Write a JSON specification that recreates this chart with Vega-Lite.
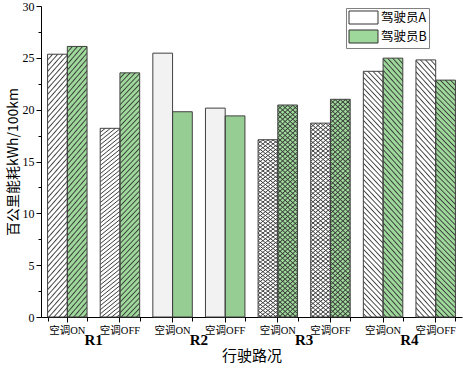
{
  "$schema": "https://vega.github.io/schema/vega-lite/v6.json",
  "width": 421,
  "height": 311,
  "padding": {"left": 6, "top": 0, "right": 2, "bottom": 0},
  "background": "white",
  "datasets": {
    "bars": [
      {"key": "R1 空调ON", "group": "R1", "cond": "空调ON", "driver": "驾驶员A", "value": 25.35},
      {"key": "R1 空调ON", "group": "R1", "cond": "空调ON", "driver": "驾驶员B", "value": 26.1},
      {"key": "R1 空调OFF", "group": "R1", "cond": "空调OFF", "driver": "驾驶员A", "value": 18.2},
      {"key": "R1 空调OFF", "group": "R1", "cond": "空调OFF", "driver": "驾驶员B", "value": 23.55},
      {"key": "R2 空调ON", "group": "R2", "cond": "空调ON", "driver": "驾驶员A", "value": 25.45},
      {"key": "R2 空调ON", "group": "R2", "cond": "空调ON", "driver": "驾驶员B", "value": 19.8},
      {"key": "R2 空调OFF", "group": "R2", "cond": "空调OFF", "driver": "驾驶员A", "value": 20.15},
      {"key": "R2 空调OFF", "group": "R2", "cond": "空调OFF", "driver": "驾驶员B", "value": 19.4},
      {"key": "R3 空调ON", "group": "R3", "cond": "空调ON", "driver": "驾驶员A", "value": 17.1},
      {"key": "R3 空调ON", "group": "R3", "cond": "空调ON", "driver": "驾驶员B", "value": 20.45},
      {"key": "R3 空调OFF", "group": "R3", "cond": "空调OFF", "driver": "驾驶员A", "value": 18.7},
      {"key": "R3 空调OFF", "group": "R3", "cond": "空调OFF", "driver": "驾驶员B", "value": 21.0},
      {"key": "R4 空调ON", "group": "R4", "cond": "空调ON", "driver": "驾驶员A", "value": 23.7},
      {"key": "R4 空调ON", "group": "R4", "cond": "空调ON", "driver": "驾驶员B", "value": 24.97},
      {"key": "R4 空调OFF", "group": "R4", "cond": "空调OFF", "driver": "驾驶员A", "value": 24.8},
      {"key": "R4 空调OFF", "group": "R4", "cond": "空调OFF", "driver": "驾驶员B", "value": 22.85}
    ],
    "groups": [{"group": "R1"}, {"group": "R2"}, {"group": "R3"}, {"group": "R4"}],
    "minor": [{"v": 2.5}, {"v": 7.5}, {"v": 12.5}, {"v": 17.5}, {"v": 22.5}, {"v": 27.5}]
  },
  "layer": [
    {
      "data": {"name": "bars"},
      "encoding": {
        "x": {
          "field": "key", "type": "nominal",
          "sort": ["R1 空调ON", "R1 空调OFF", "R2 空调ON", "R2 空调OFF", "R3 空调ON", "R3 空调OFF", "R4 空调ON", "R4 空调OFF"],
          "scale": {"paddingInner": 0.25, "paddingOuter": 0.125},
          "axis": {"title": null, "labelAngle": 0, "labelExpr": "slice(datum.label, 3)",
                   "labelFont": "Liberation Serif, Noto Sans CJK SC", "labelFontSize": 10.5, "labelColor": "#000",
                   "domainColor": "#000", "tickColor": "#000", "tickSize": 5, "labelPadding": 3}
        },
        "xOffset": {"field": "driver", "type": "nominal", "sort": ["驾驶员A", "驾驶员B"]},
        "y": {
          "field": "value", "type": "quantitative",
          "scale": {"domain": [0, 30]},
          "axis": {"title": "百公里能耗kWh/100km", "titleFont": "Noto Sans CJK SC", "titleFontSize": 14, "titleFontWeight": "normal", "titleColor": "#000",
                   "values": [0, 5, 10, 15, 20, 25, 30], "grid": false,
                   "labelFont": "Liberation Serif", "labelFontSize": 12, "labelColor": "#000",
                   "domainColor": "#000", "tickColor": "#000", "tickSize": 5, "titlePadding": 2}
        }
      },
      "layer": [
        {
          "mark": {"type": "bar", "strokeWidth": 0},
          "encoding": {
            "fill": {
              "field": "driver", "type": "nominal",
              "scale": {"domain": ["驾驶员A", "驾驶员B"], "range": ["#ffffff", "#9fd89b"]},
              "legend": {"title": null, "orient": "none", "legendX": 305, "legendY": 2,
                         "strokeColor": "#808080", "fillColor": "white", "padding": 2,
                         "labelFont": "Noto Sans CJK SC", "labelFontSize": 12.5, "labelColor": "#000", "labelLimit": 200,
                         "symbolType": "M-2.07,-0.93H2.07V0.93H-2.07Z", "symbolSize": 196,
                         "symbolStrokeColor": "#333", "symbolStrokeWidth": 1, "symbolOffset": 8, "labelOffset": 10, "rowPadding": 0}
            }
          }
        },
        {
          "transform": [{"filter": "datum.group === 'R2'"}],
          "mark": {"type": "bar", "strokeWidth": 0, "fill": "#000", "fillOpacity": 0.05}
        },
        {
          "transform": [{"filter": "datum.group === 'R1' || datum.group === 'R3'"}],
          "mark": {"type": "bar", "strokeWidth": 0, "fill": {"gradient": "linear", "x1": 0, "y1": 0, "x2": 0.092, "y2": 1.085, "stops": [
            {"offset": 0, "color": "#333e"}, {"offset": 0.005, "color": "#3330"}, {"offset": 0.015, "color": "#3330"},
            {"offset": 0.02, "color": "#333e"}, {"offset": 0.025, "color": "#3330"}, {"offset": 0.035, "color": "#3330"},
            {"offset": 0.04, "color": "#333e"}, {"offset": 0.045, "color": "#3330"}, {"offset": 0.055, "color": "#3330"},
            {"offset": 0.06, "color": "#333e"}, {"offset": 0.065, "color": "#3330"}, {"offset": 0.075, "color": "#3330"},
            {"offset": 0.08, "color": "#333e"}, {"offset": 0.085, "color": "#3330"}, {"offset": 0.095, "color": "#3330"},
            {"offset": 0.1, "color": "#333e"}, {"offset": 0.105, "color": "#3330"}, {"offset": 0.115, "color": "#3330"},
            {"offset": 0.12, "color": "#333e"}, {"offset": 0.125, "color": "#3330"}, {"offset": 0.135, "color": "#3330"},
            {"offset": 0.14, "color": "#333e"}, {"offset": 0.145, "color": "#3330"}, {"offset": 0.155, "color": "#3330"},
            {"offset": 0.16, "color": "#333e"}, {"offset": 0.165, "color": "#3330"}, {"offset": 0.175, "color": "#3330"},
            {"offset": 0.18, "color": "#333e"}, {"offset": 0.185, "color": "#3330"}, {"offset": 0.195, "color": "#3330"},
            {"offset": 0.2, "color": "#333e"}, {"offset": 0.205, "color": "#3330"}, {"offset": 0.215, "color": "#3330"},
            {"offset": 0.22, "color": "#333e"}, {"offset": 0.225, "color": "#3330"}, {"offset": 0.235, "color": "#3330"},
            {"offset": 0.24, "color": "#333e"}, {"offset": 0.245, "color": "#3330"}, {"offset": 0.255, "color": "#3330"},
            {"offset": 0.26, "color": "#333e"}, {"offset": 0.265, "color": "#3330"}, {"offset": 0.275, "color": "#3330"},
            {"offset": 0.28, "color": "#333e"}, {"offset": 0.285, "color": "#3330"}, {"offset": 0.295, "color": "#3330"},
            {"offset": 0.3, "color": "#333e"}, {"offset": 0.305, "color": "#3330"}, {"offset": 0.315, "color": "#3330"},
            {"offset": 0.32, "color": "#333e"}, {"offset": 0.325, "color": "#3330"}, {"offset": 0.335, "color": "#3330"},
            {"offset": 0.34, "color": "#333e"}, {"offset": 0.345, "color": "#3330"}, {"offset": 0.355, "color": "#3330"},
            {"offset": 0.36, "color": "#333e"}, {"offset": 0.365, "color": "#3330"}, {"offset": 0.375, "color": "#3330"},
            {"offset": 0.38, "color": "#333e"}, {"offset": 0.385, "color": "#3330"}, {"offset": 0.395, "color": "#3330"},
            {"offset": 0.4, "color": "#333e"}, {"offset": 0.405, "color": "#3330"}, {"offset": 0.415, "color": "#3330"},
            {"offset": 0.42, "color": "#333e"}, {"offset": 0.425, "color": "#3330"}, {"offset": 0.435, "color": "#3330"},
            {"offset": 0.44, "color": "#333e"}, {"offset": 0.445, "color": "#3330"}, {"offset": 0.455, "color": "#3330"},
            {"offset": 0.46, "color": "#333e"}, {"offset": 0.465, "color": "#3330"}, {"offset": 0.475, "color": "#3330"},
            {"offset": 0.48, "color": "#333e"}, {"offset": 0.485, "color": "#3330"}, {"offset": 0.495, "color": "#3330"},
            {"offset": 0.5, "color": "#333e"}, {"offset": 0.505, "color": "#3330"}, {"offset": 0.515, "color": "#3330"},
            {"offset": 0.52, "color": "#333e"}, {"offset": 0.525, "color": "#3330"}, {"offset": 0.535, "color": "#3330"},
            {"offset": 0.54, "color": "#333e"}, {"offset": 0.545, "color": "#3330"}, {"offset": 0.555, "color": "#3330"},
            {"offset": 0.56, "color": "#333e"}, {"offset": 0.565, "color": "#3330"}, {"offset": 0.575, "color": "#3330"},
            {"offset": 0.58, "color": "#333e"}, {"offset": 0.585, "color": "#3330"}, {"offset": 0.595, "color": "#3330"},
            {"offset": 0.6, "color": "#333e"}, {"offset": 0.605, "color": "#3330"}, {"offset": 0.615, "color": "#3330"},
            {"offset": 0.62, "color": "#333e"}, {"offset": 0.625, "color": "#3330"}, {"offset": 0.635, "color": "#3330"},
            {"offset": 0.64, "color": "#333e"}, {"offset": 0.645, "color": "#3330"}, {"offset": 0.655, "color": "#3330"},
            {"offset": 0.66, "color": "#333e"}, {"offset": 0.665, "color": "#3330"}, {"offset": 0.675, "color": "#3330"},
            {"offset": 0.68, "color": "#333e"}, {"offset": 0.685, "color": "#3330"}, {"offset": 0.695, "color": "#3330"},
            {"offset": 0.7, "color": "#333e"}, {"offset": 0.705, "color": "#3330"}, {"offset": 0.715, "color": "#3330"},
            {"offset": 0.72, "color": "#333e"}, {"offset": 0.725, "color": "#3330"}, {"offset": 0.735, "color": "#3330"},
            {"offset": 0.74, "color": "#333e"}, {"offset": 0.745, "color": "#3330"}, {"offset": 0.755, "color": "#3330"},
            {"offset": 0.76, "color": "#333e"}, {"offset": 0.765, "color": "#3330"}, {"offset": 0.775, "color": "#3330"},
            {"offset": 0.78, "color": "#333e"}, {"offset": 0.785, "color": "#3330"}, {"offset": 0.795, "color": "#3330"},
            {"offset": 0.8, "color": "#333e"}, {"offset": 0.805, "color": "#3330"}, {"offset": 0.815, "color": "#3330"},
            {"offset": 0.82, "color": "#333e"}, {"offset": 0.825, "color": "#3330"}, {"offset": 0.835, "color": "#3330"},
            {"offset": 0.84, "color": "#333e"}, {"offset": 0.845, "color": "#3330"}, {"offset": 0.855, "color": "#3330"},
            {"offset": 0.86, "color": "#333e"}, {"offset": 0.865, "color": "#3330"}, {"offset": 0.875, "color": "#3330"},
            {"offset": 0.88, "color": "#333e"}, {"offset": 0.885, "color": "#3330"}, {"offset": 0.895, "color": "#3330"},
            {"offset": 0.9, "color": "#333e"}, {"offset": 0.905, "color": "#3330"}, {"offset": 0.915, "color": "#3330"},
            {"offset": 0.92, "color": "#333e"}, {"offset": 0.925, "color": "#3330"}, {"offset": 0.935, "color": "#3330"},
            {"offset": 0.94, "color": "#333e"}, {"offset": 0.945, "color": "#3330"}, {"offset": 0.955, "color": "#3330"},
            {"offset": 0.96, "color": "#333e"}, {"offset": 0.965, "color": "#3330"}, {"offset": 0.975, "color": "#3330"},
            {"offset": 0.98, "color": "#333e"}, {"offset": 0.985, "color": "#3330"}, {"offset": 0.995, "color": "#3330"},
            {"offset": 1, "color": "#333e"}
          ]}}
        },
        {
          "transform": [{"filter": "datum.group === 'R3' || datum.group === 'R4'"}],
          "mark": {"type": "bar", "strokeWidth": 0, "fill": {"gradient": "linear", "x1": 1, "y1": 0, "x2": 0.908, "y2": 1.085, "stops": [
            {"offset": 0, "color": "#333e"}, {"offset": 0.005, "color": "#3330"}, {"offset": 0.015, "color": "#3330"},
            {"offset": 0.02, "color": "#333e"}, {"offset": 0.025, "color": "#3330"}, {"offset": 0.035, "color": "#3330"},
            {"offset": 0.04, "color": "#333e"}, {"offset": 0.045, "color": "#3330"}, {"offset": 0.055, "color": "#3330"},
            {"offset": 0.06, "color": "#333e"}, {"offset": 0.065, "color": "#3330"}, {"offset": 0.075, "color": "#3330"},
            {"offset": 0.08, "color": "#333e"}, {"offset": 0.085, "color": "#3330"}, {"offset": 0.095, "color": "#3330"},
            {"offset": 0.1, "color": "#333e"}, {"offset": 0.105, "color": "#3330"}, {"offset": 0.115, "color": "#3330"},
            {"offset": 0.12, "color": "#333e"}, {"offset": 0.125, "color": "#3330"}, {"offset": 0.135, "color": "#3330"},
            {"offset": 0.14, "color": "#333e"}, {"offset": 0.145, "color": "#3330"}, {"offset": 0.155, "color": "#3330"},
            {"offset": 0.16, "color": "#333e"}, {"offset": 0.165, "color": "#3330"}, {"offset": 0.175, "color": "#3330"},
            {"offset": 0.18, "color": "#333e"}, {"offset": 0.185, "color": "#3330"}, {"offset": 0.195, "color": "#3330"},
            {"offset": 0.2, "color": "#333e"}, {"offset": 0.205, "color": "#3330"}, {"offset": 0.215, "color": "#3330"},
            {"offset": 0.22, "color": "#333e"}, {"offset": 0.225, "color": "#3330"}, {"offset": 0.235, "color": "#3330"},
            {"offset": 0.24, "color": "#333e"}, {"offset": 0.245, "color": "#3330"}, {"offset": 0.255, "color": "#3330"},
            {"offset": 0.26, "color": "#333e"}, {"offset": 0.265, "color": "#3330"}, {"offset": 0.275, "color": "#3330"},
            {"offset": 0.28, "color": "#333e"}, {"offset": 0.285, "color": "#3330"}, {"offset": 0.295, "color": "#3330"},
            {"offset": 0.3, "color": "#333e"}, {"offset": 0.305, "color": "#3330"}, {"offset": 0.315, "color": "#3330"},
            {"offset": 0.32, "color": "#333e"}, {"offset": 0.325, "color": "#3330"}, {"offset": 0.335, "color": "#3330"},
            {"offset": 0.34, "color": "#333e"}, {"offset": 0.345, "color": "#3330"}, {"offset": 0.355, "color": "#3330"},
            {"offset": 0.36, "color": "#333e"}, {"offset": 0.365, "color": "#3330"}, {"offset": 0.375, "color": "#3330"},
            {"offset": 0.38, "color": "#333e"}, {"offset": 0.385, "color": "#3330"}, {"offset": 0.395, "color": "#3330"},
            {"offset": 0.4, "color": "#333e"}, {"offset": 0.405, "color": "#3330"}, {"offset": 0.415, "color": "#3330"},
            {"offset": 0.42, "color": "#333e"}, {"offset": 0.425, "color": "#3330"}, {"offset": 0.435, "color": "#3330"},
            {"offset": 0.44, "color": "#333e"}, {"offset": 0.445, "color": "#3330"}, {"offset": 0.455, "color": "#3330"},
            {"offset": 0.46, "color": "#333e"}, {"offset": 0.465, "color": "#3330"}, {"offset": 0.475, "color": "#3330"},
            {"offset": 0.48, "color": "#333e"}, {"offset": 0.485, "color": "#3330"}, {"offset": 0.495, "color": "#3330"},
            {"offset": 0.5, "color": "#333e"}, {"offset": 0.505, "color": "#3330"}, {"offset": 0.515, "color": "#3330"},
            {"offset": 0.52, "color": "#333e"}, {"offset": 0.525, "color": "#3330"}, {"offset": 0.535, "color": "#3330"},
            {"offset": 0.54, "color": "#333e"}, {"offset": 0.545, "color": "#3330"}, {"offset": 0.555, "color": "#3330"},
            {"offset": 0.56, "color": "#333e"}, {"offset": 0.565, "color": "#3330"}, {"offset": 0.575, "color": "#3330"},
            {"offset": 0.58, "color": "#333e"}, {"offset": 0.585, "color": "#3330"}, {"offset": 0.595, "color": "#3330"},
            {"offset": 0.6, "color": "#333e"}, {"offset": 0.605, "color": "#3330"}, {"offset": 0.615, "color": "#3330"},
            {"offset": 0.62, "color": "#333e"}, {"offset": 0.625, "color": "#3330"}, {"offset": 0.635, "color": "#3330"},
            {"offset": 0.64, "color": "#333e"}, {"offset": 0.645, "color": "#3330"}, {"offset": 0.655, "color": "#3330"},
            {"offset": 0.66, "color": "#333e"}, {"offset": 0.665, "color": "#3330"}, {"offset": 0.675, "color": "#3330"},
            {"offset": 0.68, "color": "#333e"}, {"offset": 0.685, "color": "#3330"}, {"offset": 0.695, "color": "#3330"},
            {"offset": 0.7, "color": "#333e"}, {"offset": 0.705, "color": "#3330"}, {"offset": 0.715, "color": "#3330"},
            {"offset": 0.72, "color": "#333e"}, {"offset": 0.725, "color": "#3330"}, {"offset": 0.735, "color": "#3330"},
            {"offset": 0.74, "color": "#333e"}, {"offset": 0.745, "color": "#3330"}, {"offset": 0.755, "color": "#3330"},
            {"offset": 0.76, "color": "#333e"}, {"offset": 0.765, "color": "#3330"}, {"offset": 0.775, "color": "#3330"},
            {"offset": 0.78, "color": "#333e"}, {"offset": 0.785, "color": "#3330"}, {"offset": 0.795, "color": "#3330"},
            {"offset": 0.8, "color": "#333e"}, {"offset": 0.805, "color": "#3330"}, {"offset": 0.815, "color": "#3330"},
            {"offset": 0.82, "color": "#333e"}, {"offset": 0.825, "color": "#3330"}, {"offset": 0.835, "color": "#3330"},
            {"offset": 0.84, "color": "#333e"}, {"offset": 0.845, "color": "#3330"}, {"offset": 0.855, "color": "#3330"},
            {"offset": 0.86, "color": "#333e"}, {"offset": 0.865, "color": "#3330"}, {"offset": 0.875, "color": "#3330"},
            {"offset": 0.88, "color": "#333e"}, {"offset": 0.885, "color": "#3330"}, {"offset": 0.895, "color": "#3330"},
            {"offset": 0.9, "color": "#333e"}, {"offset": 0.905, "color": "#3330"}, {"offset": 0.915, "color": "#3330"},
            {"offset": 0.92, "color": "#333e"}, {"offset": 0.925, "color": "#3330"}, {"offset": 0.935, "color": "#3330"},
            {"offset": 0.94, "color": "#333e"}, {"offset": 0.945, "color": "#3330"}, {"offset": 0.955, "color": "#3330"},
            {"offset": 0.96, "color": "#333e"}, {"offset": 0.965, "color": "#3330"}, {"offset": 0.975, "color": "#3330"},
            {"offset": 0.98, "color": "#333e"}, {"offset": 0.985, "color": "#3330"}, {"offset": 0.995, "color": "#3330"},
            {"offset": 1, "color": "#333e"}
          ]}}
        },
        {
          "mark": {"type": "bar", "fillOpacity": 0, "fill": "#fff", "stroke": "#404040", "strokeWidth": 1}
        }
      ]
    },
    {
      "data": {"name": "bars"},
      "mark": {"type": "tick", "opacity": 0},
      "encoding": {
        "x": {
          "field": "key", "type": "nominal",
          "sort": ["R1 空调ON", "R1 空调OFF", "R2 空调ON", "R2 空调OFF", "R3 空调ON", "R3 空调OFF", "R4 空调ON", "R4 空调OFF"],
          "scale": {"paddingInner": 0.25, "paddingOuter": 0.125},
          "axis": {"orient": "bottom", "title": null, "labels": false, "domain": false, "tickBand": "extent",
                   "tickColor": "#000", "tickSize": 4}
        }
      }
    },
    {
      "data": {"name": "groups"},
      "mark": {"type": "tick", "opacity": 0},
      "encoding": {
        "x": {
          "field": "group", "type": "nominal",
          "scale": {"paddingInner": 0, "paddingOuter": 0},
          "axis": {"orient": "bottom", "title": "行驶路况", "titleFont": "Noto Sans CJK SC", "titleFontSize": 15, "titleFontWeight": "normal",
                   "titleColor": "#000", "titlePadding": 1,
                   "labelAngle": 0, "labelFont": "Liberation Serif", "labelFontWeight": "bold", "labelFontSize": 15, "labelColor": "#000",
                   "domain": false, "ticks": false, "tickSize": 0, "labelPadding": 15}
        }
      }
    },
    {
      "data": {"name": "minor"},
      "mark": {"type": "tick", "opacity": 0},
      "encoding": {
        "y": {
          "field": "v", "type": "quantitative",
          "scale": {"domain": [0, 30]},
          "axis": {"orient": "left", "title": null, "labels": false, "domain": false, "grid": false,
                   "values": [2.5, 7.5, 12.5, 17.5, 22.5, 27.5], "tickColor": "#000", "tickSize": 3}
        }
      }
    }
  ],
  "resolve": {"scale": {"x": "independent", "y": "independent"}, "axis": {"x": "independent", "y": "independent"}},
  "config": {"view": {"stroke": null}}
}
